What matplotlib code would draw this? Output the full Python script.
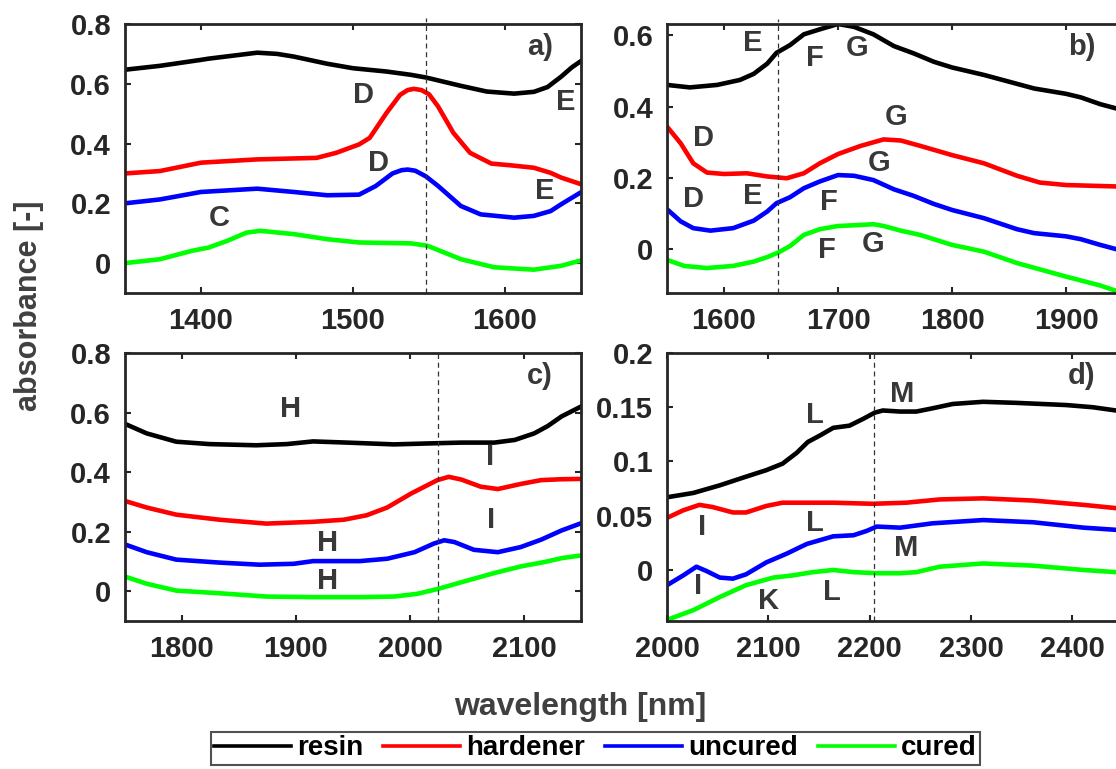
import matplotlib
matplotlib.use('Agg')
import matplotlib.pyplot as plt

plt.rcParams['font.family'] = ['Liberation Sans', 'DejaVu Sans']
plt.rcParams['font.weight'] = 'bold'

series_names = ['resin', 'hardener', 'uncured', 'cured']
series_colors = ['#000000', '#ff0000', '#0000ff', '#00ff00']

# ---- panel a) 1350-1650 nm
a_resin_wl = [1350, 1373, 1400, 1405, 1437, 1450, 1461, 1483, 1500, 1522, 1538, 1548, 1571, 1588, 1606, 1619, 1628, 1637, 1644, 1650]
a_resin_ab = [0.647, 0.66, 0.68, 0.684, 0.704, 0.70, 0.691, 0.667, 0.652, 0.641, 0.63, 0.621, 0.593, 0.574, 0.567, 0.573, 0.589, 0.624, 0.655, 0.676]
a_hard_wl = [1350, 1373, 1400, 1437, 1476, 1489, 1504, 1511, 1522, 1531, 1536, 1540, 1545, 1550, 1556, 1566, 1577, 1591, 1604, 1619, 1630, 1637, 1650]
a_hard_ab = [0.30, 0.308, 0.336, 0.347, 0.352, 0.369, 0.397, 0.419, 0.502, 0.563, 0.579, 0.583, 0.579, 0.565, 0.524, 0.436, 0.369, 0.333, 0.327, 0.319, 0.302, 0.286, 0.264]
a_unc_wl = [1350, 1373, 1400, 1437, 1461, 1483, 1504, 1515, 1526, 1532, 1536, 1541, 1548, 1556, 1571, 1584, 1606, 1619, 1630, 1637, 1650]
a_unc_ab = [0.20, 0.213, 0.238, 0.249, 0.238, 0.227, 0.229, 0.258, 0.30, 0.311, 0.313, 0.309, 0.29, 0.258, 0.191, 0.163, 0.152, 0.158, 0.174, 0.197, 0.237]
a_cur_wl = [1350, 1373, 1394, 1405, 1417, 1430, 1439, 1461, 1483, 1504, 1526, 1538, 1549, 1571, 1593, 1619, 1637, 1650]
a_cur_ab = [0.0, 0.013, 0.041, 0.052, 0.074, 0.102, 0.108, 0.097, 0.08, 0.069, 0.067, 0.066, 0.058, 0.013, -0.014, -0.022, -0.009, 0.009]
a_peaks = [('D', 1507, 0.561), ('D', 1517, 0.336), ('C', 1412, 0.152), ('E', 1626, 0.241), ('E', 1640, 0.54)]

# ---- panel b) 1550-1950 nm
b_resin_wl = [1550, 1570, 1594, 1614, 1626, 1638, 1646, 1658, 1670, 1684, 1700, 1714, 1731, 1749, 1766, 1784, 1800, 1828, 1857, 1872, 1900, 1913, 1930, 1944, 1950]
b_resin_ab = [0.461, 0.454, 0.461, 0.475, 0.492, 0.521, 0.551, 0.573, 0.603, 0.617, 0.632, 0.624, 0.603, 0.57, 0.55, 0.526, 0.51, 0.489, 0.464, 0.451, 0.436, 0.426, 0.407, 0.395, 0.39]
b_hard_wl = [1550, 1562, 1573, 1585, 1600, 1620, 1638, 1655, 1670, 1684, 1700, 1720, 1740, 1755, 1772, 1800, 1828, 1857, 1877, 1900, 1944, 1950]
b_hard_ab = [0.344, 0.297, 0.241, 0.215, 0.211, 0.213, 0.204, 0.199, 0.213, 0.241, 0.267, 0.29, 0.308, 0.305, 0.29, 0.264, 0.241, 0.206, 0.187, 0.18, 0.176, 0.176]
b_unc_wl = [1550, 1562, 1573, 1588, 1608, 1626, 1638, 1646, 1658, 1670, 1684, 1700, 1714, 1731, 1749, 1766, 1784, 1800, 1828, 1857, 1872, 1900, 1913, 1930, 1944, 1950]
b_unc_ab = [0.112, 0.078, 0.059, 0.052, 0.059, 0.08, 0.106, 0.129, 0.146, 0.171, 0.19, 0.208, 0.206, 0.194, 0.168, 0.15, 0.127, 0.11, 0.087, 0.056, 0.045, 0.036, 0.028, 0.012, 0.0, -0.004]
b_cur_wl = [1550, 1565, 1585, 1608, 1626, 1638, 1648, 1658, 1670, 1684, 1700, 1714, 1731, 1740, 1755, 1772, 1800, 1828, 1857, 1900, 1930, 1944, 1950]
b_cur_ab = [-0.03, -0.047, -0.053, -0.047, -0.035, -0.022, -0.009, 0.009, 0.04, 0.056, 0.065, 0.067, 0.07, 0.065, 0.052, 0.04, 0.012, -0.007, -0.039, -0.077, -0.102, -0.117, -0.122]
b_peaks = [('E', 1625, 0.579), ('F', 1680, 0.536), ('G', 1717, 0.565), ('G', 1751, 0.37),
           ('D', 1582, 0.311), ('G', 1736, 0.241), ('D', 1573, 0.14), ('E', 1625, 0.15),
           ('F', 1692, 0.131), ('F', 1690, -0.002), ('G', 1731, 0.014)]

# ---- panel c) 1750-2150 nm
c_resin_wl = [1750, 1769, 1795, 1824, 1865, 1892, 1915, 1945, 1986, 2024, 2045, 2074, 2092, 2109, 2121, 2133, 2150]
c_resin_ab = [0.562, 0.53, 0.502, 0.494, 0.49, 0.494, 0.503, 0.499, 0.493, 0.497, 0.499, 0.499, 0.508, 0.53, 0.555, 0.587, 0.62]
c_hard_wl = [1750, 1769, 1795, 1833, 1874, 1915, 1942, 1962, 1980, 2001, 2024, 2034, 2045, 2062, 2077, 2097, 2115, 2133, 2150]
c_hard_ab = [0.303, 0.281, 0.257, 0.24, 0.227, 0.233, 0.24, 0.255, 0.281, 0.328, 0.373, 0.384, 0.375, 0.351, 0.343, 0.36, 0.373, 0.376, 0.377]
c_unc_wl = [1750, 1769, 1795, 1833, 1868, 1898, 1915, 1956, 1980, 2004, 2021, 2030, 2039, 2056, 2077, 2097, 2115, 2133, 2150]
c_unc_ab = [0.157, 0.131, 0.106, 0.096, 0.089, 0.092, 0.101, 0.101, 0.109, 0.131, 0.16, 0.171, 0.165, 0.139, 0.131, 0.148, 0.173, 0.204, 0.228]
c_cur_wl = [1750, 1769, 1795, 1833, 1874, 1915, 1956, 1986, 2006, 2024, 2045, 2074, 2097, 2118, 2133, 2150]
c_cur_ab = [0.049, 0.025, 0.002, -0.007, -0.018, -0.02, -0.02, -0.018, -0.009, 0.007, 0.03, 0.061, 0.083, 0.098, 0.111, 0.12]
c_peaks = [('H', 1895, 0.611), ('I', 2070, 0.449), ('I', 2071, 0.238), ('H', 1928, 0.162), ('H', 1928, 0.033)]

# ---- panel d) 2000-2450 nm
d_resin_wl = [2000, 2026, 2052, 2078, 2098, 2114, 2128, 2139, 2151, 2164, 2180, 2193, 2205, 2213, 2230, 2246, 2262, 2282, 2312, 2345, 2394, 2420, 2443, 2450]
d_resin_ab = [0.067, 0.071, 0.078, 0.086, 0.092, 0.098, 0.108, 0.118, 0.124, 0.131, 0.133, 0.139, 0.145, 0.147, 0.146, 0.146, 0.149, 0.153, 0.155, 0.154, 0.152, 0.15, 0.147, 0.146]
d_hard_wl = [2000, 2016, 2032, 2045, 2065, 2078, 2098, 2114, 2164, 2203, 2236, 2269, 2312, 2361, 2411, 2443, 2450]
d_hard_ab = [0.048, 0.055, 0.06, 0.058, 0.053, 0.053, 0.059, 0.062, 0.062, 0.061, 0.062, 0.065, 0.066, 0.064, 0.06, 0.057, 0.056]
d_unc_wl = [2000, 2016, 2029, 2039, 2052, 2065, 2078, 2098, 2118, 2138, 2164, 2184, 2197, 2207, 2230, 2262, 2312, 2361, 2411, 2443, 2450]
d_unc_ab = [-0.014, -0.005, 0.003, -0.001, -0.007, -0.008, -0.004, 0.007, 0.015, 0.024, 0.031, 0.032, 0.036, 0.04, 0.039, 0.043, 0.046, 0.044, 0.039, 0.037, 0.036]
d_cur_wl = [2000, 2026, 2052, 2078, 2105, 2124, 2144, 2164, 2184, 2207, 2230, 2246, 2269, 2312, 2361, 2411, 2443, 2450]
d_cur_ab = [-0.046, -0.037, -0.025, -0.014, -0.007, -0.005, -0.002, 0.0, -0.002, -0.003, -0.003, -0.002, 0.003, 0.006, 0.004, 0.0, -0.002, -0.003]
d_peaks = [('M', 2232, 0.162), ('L', 2146, 0.143), ('I', 2035, 0.04), ('L', 2146, 0.043),
           ('M', 2236, 0.02), ('I', 2031, -0.015), ('K', 2100, -0.029), ('L', 2163, -0.02)]

a_xticks = [1400, 1500, 1600]
b_xticks = [1600, 1700, 1800, 1900]
c_xticks = [1800, 1900, 2000, 2100]
d_xticks = [2000, 2100, 2200, 2300, 2400]
abs_yticks = [0, 0.2, 0.4, 0.6, 0.8]
abs_ylabels = ['0', '0.2', '0.4', '0.6', '0.8']
b_yticks = [0, 0.2, 0.4, 0.6]
b_ylabels = ['0', '0.2', '0.4', '0.6']
d_yticks = [0, 0.05, 0.1, 0.15, 0.2]
d_ylabels = ['0', '0.05', '0.1', '0.15', '0.2']

panels = [
    dict(tag='a)', pos=[0.1120, 0.6190, 0.4086, 0.3498], xlim=(1350, 1650), ylim=(-0.1, 0.8),
         xt=a_xticks, yt=abs_yticks, yl=abs_ylabels, dash=1548, dtop=1.022,
         data=[(a_resin_wl, a_resin_ab), (a_hard_wl, a_hard_ab), (a_unc_wl, a_unc_ab), (a_cur_wl, a_cur_ab)],
         peaks=a_peaks),
    dict(tag='b)', pos=[0.5977, 0.6190, 0.4086, 0.3498], xlim=(1550, 1950), ylim=(-0.123, 0.632),
         xt=b_xticks, yt=b_yticks, yl=b_ylabels, dash=1647, dtop=1.02,
         data=[(b_resin_wl, b_resin_ab), (b_hard_wl, b_hard_ab), (b_unc_wl, b_unc_ab), (b_cur_wl, b_cur_ab)],
         peaks=b_peaks),
    dict(tag='c)', pos=[0.1120, 0.1925, 0.4086, 0.3485], xlim=(1750, 2150), ylim=(-0.1, 0.8),
         xt=c_xticks, yt=abs_yticks, yl=abs_ylabels, dash=2025, dtop=1.0,
         data=[(c_resin_wl, c_resin_ab), (c_hard_wl, c_hard_ab), (c_unc_wl, c_unc_ab), (c_cur_wl, c_cur_ab)],
         peaks=c_peaks),
    dict(tag='d)', pos=[0.5977, 0.1925, 0.4086, 0.3485], xlim=(2000, 2450), ylim=(-0.047, 0.2),
         xt=d_xticks, yt=d_yticks, yl=d_ylabels, dash=2204, dtop=1.0,
         data=[(d_resin_wl, d_resin_ab), (d_hard_wl, d_hard_ab), (d_unc_wl, d_unc_ab), (d_cur_wl, d_cur_ab)],
         peaks=d_peaks),
]

fig = plt.figure(figsize=(11.16, 7.69), dpi=100)
txt_col = '#383838'
axes_col = '#262626'

handles = None
for p in panels:
    ax = fig.add_axes(p['pos'])
    lines = []
    for (wl, ab), c, n in zip(p['data'], series_colors, series_names):
        ln, = ax.plot(wl, ab, color=c, lw=3.3, label=n)
        lines.append(ln)
    if handles is None:
        handles = lines
    ax.axvline(p['dash'], ymin=0, ymax=p['dtop'], color='#333333', lw=0.9,
               ls=(0, (4, 3)), clip_on=False)
    ax.set_xlim(*p['xlim'])
    ax.set_ylim(*p['ylim'])
    ax.set_xticks(p['xt'])
    ax.set_xticklabels([str(v) for v in p['xt']])
    ax.set_yticks(p['yt'])
    ax.set_yticklabels(p['yl'])
    ax.tick_params(direction='in', top=True, right=True, length=4.5, width=1.5,
                   labelsize=21, pad=10, color=axes_col, labelcolor=axes_col)
    for sp in ax.spines.values():
        sp.set_linewidth(2)
        sp.set_color(axes_col)
    for s, x, y in p['peaks']:
        ax.text(x, y, s, ha='center', va='center', fontsize=21, color=txt_col)
    ax.text(0.91, 0.914, p['tag'], transform=ax.transAxes, ha='center', va='center',
            fontsize=21, color=txt_col)

fig.text(0.026, 0.602, 'absorbance [-]', rotation=90, ha='center', va='center',
         fontsize=22, color='#404040')
fig.text(0.52, 0.081, 'wavelength [nm]', ha='center', va='center',
         fontsize=23, color='#404040')

leg = fig.legend(handles, series_names, loc='upper center', bbox_to_anchor=(0.5336, 0.0481),
                 borderaxespad=0, ncol=4, frameon=True, fancybox=False, edgecolor=axes_col,
                 fontsize=20, handlelength=2.77, handletextpad=0.22, columnspacing=0.72,
                 borderpad=0.12)
leg.get_frame().set_linewidth(1.5)
for ln in leg.get_lines():
    ln.set_linewidth(2.6)

fig.savefig('out.png', dpi=100)
